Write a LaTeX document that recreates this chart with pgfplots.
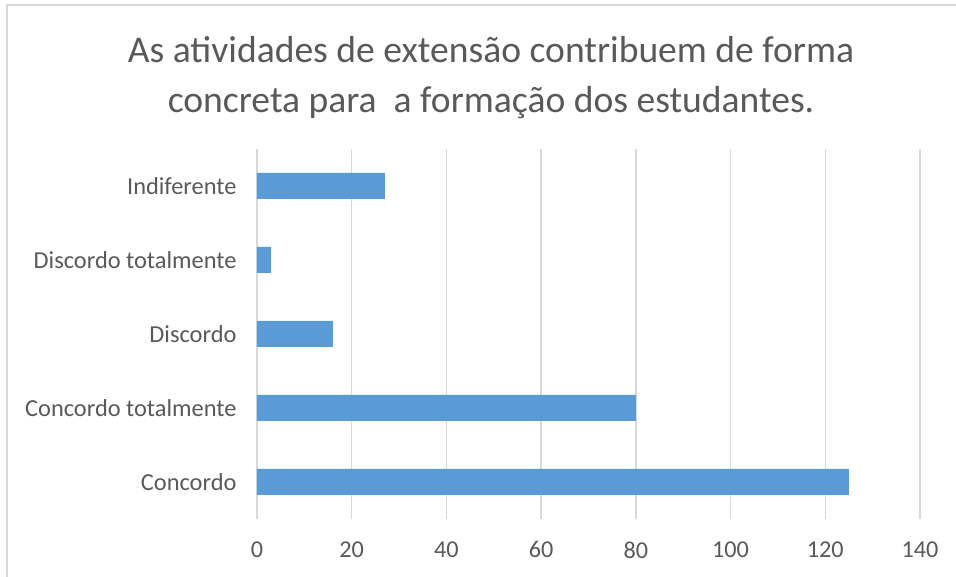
\documentclass[border=0pt]{standalone}
\usepackage{fontspec}
\setmainfont{Carlito}
\usepackage{pgfplots}
\pgfplotsset{compat=1.18}
\definecolor{barblue}{HTML}{5B9BD5}
\definecolor{gridgray}{HTML}{D9D9D9}
\definecolor{txtgray}{HTML}{595959}
\begin{document}
\begin{tikzpicture}[x=1pt,y=1pt]
\useasboundingbox (0,0) rectangle (956,577);
\draw[gridgray, line width=1.2pt] (7,-10) -- (7,572) -- (970,572);
\node[align=center, text=txtgray, font=\fontsize{37.6}{50}\selectfont] at (491,499)
  {As atividades de extensão contribuem de forma\\concreta para\ \ a formação dos estudantes.};
\begin{axis}[
  at={(257pt,58pt)}, anchor=south west,
  scale only axis, width=663pt, height=370pt,
  xmin=0, xmax=140, ymin=-0.5, ymax=4.5,
  xtick={0,20,...,140},
  ytick={0,1,2,3,4},
  yticklabels={Concordo, Concordo totalmente, Discordo, Discordo totalmente, Indiferente},
  xmajorgrids, major grid style={gridgray, line width=1.3pt},
  axis line style={draw=none},
  major tick length=0pt,
  xticklabel style={text=txtgray, font=\fontsize{24.2}{28}\selectfont, yshift=-19pt},
  yticklabel style={text=txtgray, font=\fontsize{24.4}{28}\selectfont, xshift=-17pt},
  /pgf/number format/assume math mode=true,
  clip=false,
]
\addplot[xbar, bar width=26pt, fill=barblue, draw=none] coordinates {
  (125,0) (80,1) (16,2) (3,3) (27,4)
};
\end{axis}
\end{tikzpicture}
\end{document}
